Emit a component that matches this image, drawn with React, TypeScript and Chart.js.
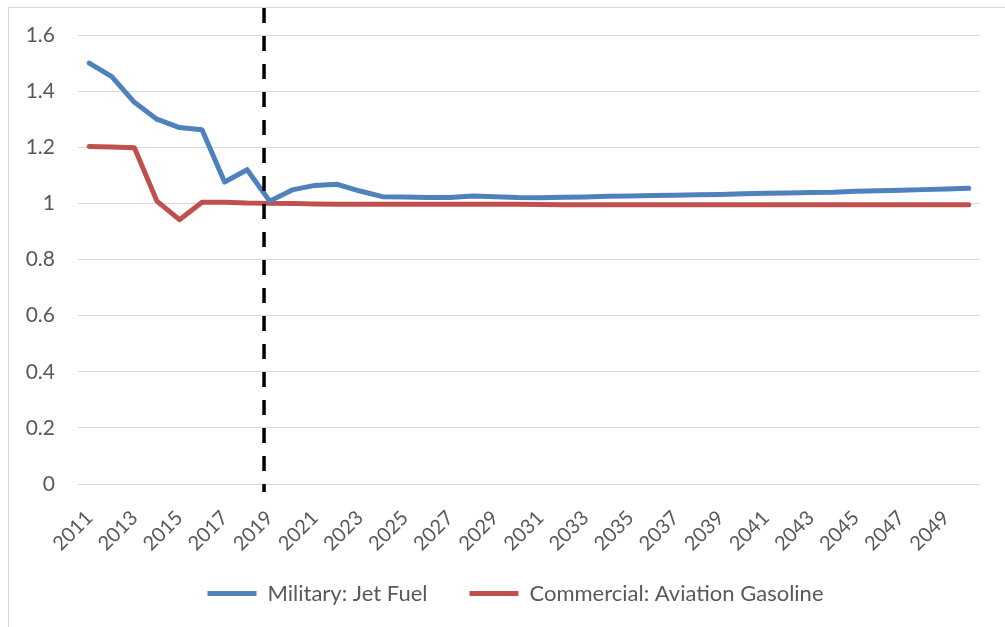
import { useEffect, useRef } from "react";
import { Chart, registerables } from "chart.js";

Chart.register(...registerables);

const years: string[] = [
  "2011", "2012", "2013", "2014", "2015", "2016", "2017", "2018", "2019", "2020",
  "2021", "2022", "2023", "2024", "2025", "2026", "2027", "2028", "2029", "2030",
  "2031", "2032", "2033", "2034", "2035", "2036", "2037", "2038", "2039", "2040",
  "2041", "2042", "2043", "2044", "2045", "2046", "2047", "2048", "2049", "2050",
];

const militaryJetFuel: number[] = [
  1.5, 1.452, 1.36, 1.3, 1.27, 1.262, 1.076, 1.12, 1.008, 1.048,
  1.064, 1.068, 1.044, 1.024, 1.023, 1.021, 1.021, 1.026, 1.024, 1.021,
  1.02, 1.022, 1.023, 1.025, 1.026, 1.028, 1.029, 1.031, 1.032, 1.034,
  1.036, 1.037, 1.039, 1.04, 1.043, 1.045, 1.047, 1.049, 1.051, 1.054,
];

const commercialAvGas: number[] = [
  1.203, 1.201, 1.198, 1.008, 0.942, 1.004, 1.004, 1.001, 1.0, 1.0,
  0.998, 0.997, 0.997, 0.997, 0.997, 0.997, 0.997, 0.997, 0.997, 0.997,
  0.996, 0.995, 0.995, 0.995, 0.995, 0.995, 0.995, 0.995, 0.995, 0.995,
  0.995, 0.995, 0.995, 0.995, 0.995, 0.995, 0.995, 0.995, 0.995, 0.995,
];

const seriesNames: string[] = ["Military: Jet Fuel", "Commercial: Aviation Gasoline"];
const seriesColors: string[] = ["#4F81BD", "#C0504D"];

// position of the vertical dashed divider, in category-index units (between 2018 and 2019)
const DIVIDER_INDEX = 7.75;

const TEXT = "#595959";
const GRID = "#d9d9d9";
const FONT = "Lato";
const LEGEND_PAD = 42;

const dividerPlugin = {
  id: "divider",
  afterLayout(chart: any) {
    // let rotated x labels extend below the axis box (no clipping)
    chart.scales.x.bottom = chart.height;
    // compensate for the trailing item padding when centring the legend
    if (chart.legend) {
      chart.legend.left += LEGEND_PAD / 2;
      chart.legend.right += LEGEND_PAD / 2;
    }
  },
  afterDatasetsDraw(chart: any) {
    const ctx = chart.ctx;
    const x = chart.scales.x.getPixelForValue(DIVIDER_INDEX);
    ctx.save();
    ctx.beginPath();
    ctx.setLineDash([15, 13]);
    ctx.lineWidth = 3.5;
    ctx.strokeStyle = "#000000";
    ctx.moveTo(x, 0);
    ctx.lineTo(x, chart.chartArea.bottom + 8);
    ctx.stroke();
    ctx.restore();
  },
};

export default function App() {
  const ref = useRef<HTMLCanvasElement | null>(null);

  useEffect(() => {
    if (!ref.current) return;
    const chart = new Chart(ref.current, {
      type: "line",
      data: {
        labels: years,
        datasets: [
          {
            label: seriesNames[0],
            data: militaryJetFuel,
            borderColor: seriesColors[0],
            backgroundColor: seriesColors[0],
            borderWidth: 5,
            pointRadius: 0,
            borderCapStyle: "round",
            borderJoinStyle: "round",
            tension: 0,
          },
          {
            label: seriesNames[1],
            data: commercialAvGas,
            borderColor: seriesColors[1],
            backgroundColor: seriesColors[1],
            borderWidth: 5,
            pointRadius: 0,
            borderCapStyle: "round",
            borderJoinStyle: "round",
            tension: 0,
          },
        ],
      },
      options: {
        responsive: false,
        animation: false,
        layout: { padding: { top: 27, right: 25, bottom: 12.5, left: 0 } },
        plugins: {
          tooltip: { enabled: false },
          legend: {
            position: "bottom",
            labels: {
              usePointStyle: true,
              pointStyle: "line",
              pointStyleWidth: 49,
              padding: LEGEND_PAD,
              color: TEXT,
              font: { family: FONT, size: 22 },
            },
          },
        },
        scales: {
          x: {
            offset: true,
            grid: { display: false },
            border: { display: false },
            afterFit: (scale: any) => {
              scale.height = 56.5;
            },
            ticks: {
              autoSkip: false,
              maxRotation: 45,
              minRotation: 45,
              padding: 14,
              color: TEXT,
              font: { family: FONT, size: 20 },
              callback: (_v: any, i: number) => (i % 2 === 0 ? years[i] : ""),
            },
          },
          y: {
            min: 0,
            max: 1.6,
            grid: { color: GRID, lineWidth: 1, drawTicks: false },
            border: { display: false },
            afterFit: (scale: any) => {
              scale.width = 69;
              scale.paddingTop = 0;
              scale.paddingBottom = 0;
            },
            ticks: {
              stepSize: 0.2,
              padding: 23,
              color: TEXT,
              font: { family: FONT, size: 21 },
              callback: (v: any) => String(Number(Number(v).toFixed(1))),
            },
          },
        },
      },
      plugins: [dividerPlugin],
    } as any);
    return () => chart.destroy();
  }, []);

  return (
    <div
      style={{
        position: "fixed",
        left: 8,
        top: 7,
        width: 997,
        height: 620,
        boxSizing: "border-box",
        borderLeft: `1px solid ${GRID}`,
        borderTop: `1px solid ${GRID}`,
        background: "#fff",
      }}
    >
      <canvas ref={ref} width={996} height={619} style={{ display: "block" }} />
    </div>
  );
}
